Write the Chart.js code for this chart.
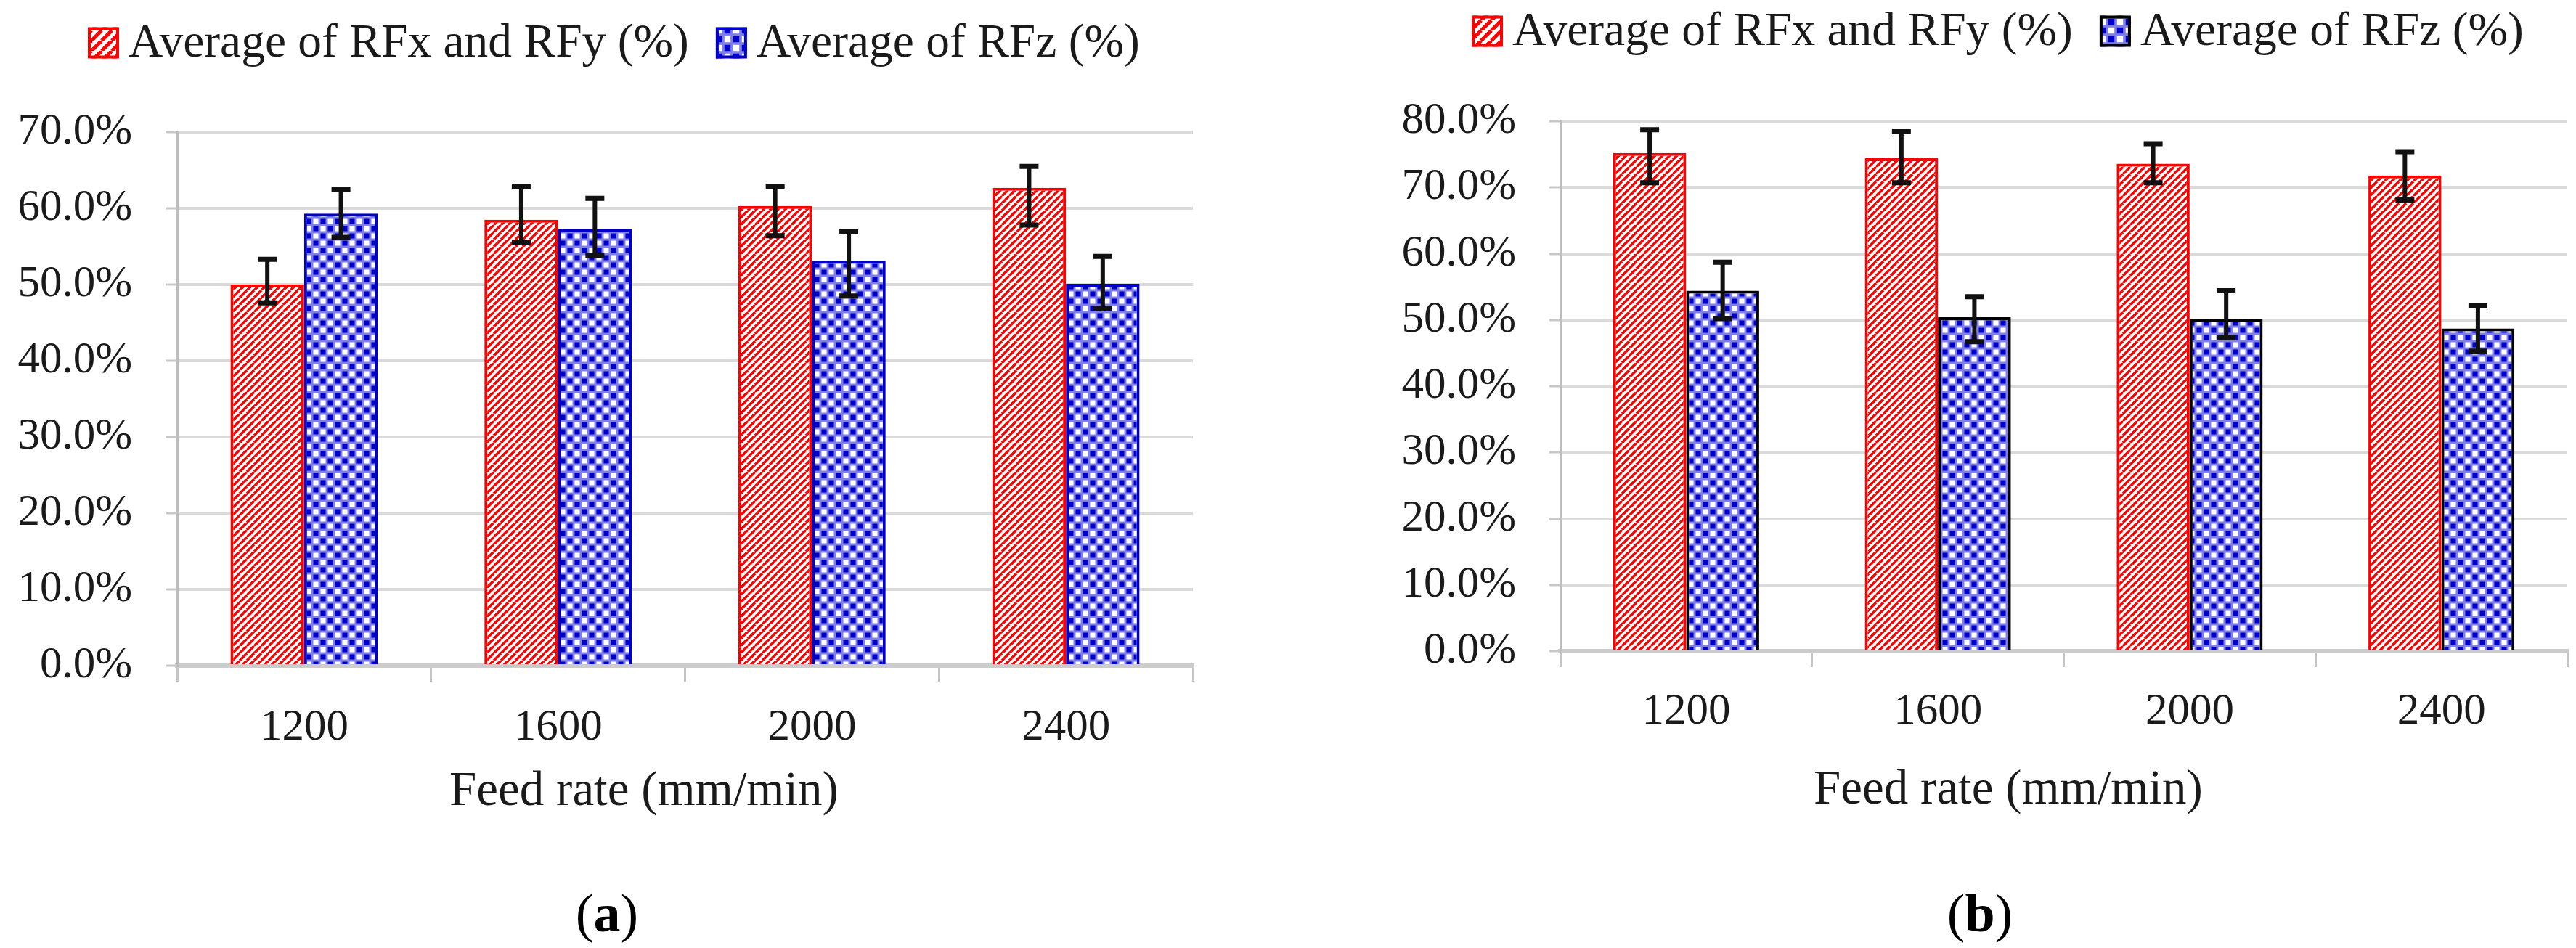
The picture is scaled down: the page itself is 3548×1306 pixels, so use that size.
<!DOCTYPE html>
<html><head><meta charset="utf-8">
<script src="https://cdn.jsdelivr.net/npm/chart.js@4.4.1/dist/chart.umd.min.js"></script>
<style>
html,body{margin:0;padding:0;background:#fff;width:3548px;height:1306px;overflow:hidden}
.panel{position:absolute;top:0;width:1774px;height:1306px}
#pa{left:0}#pb{left:1774px}
canvas{display:block}
.txt{position:absolute;font-family:"Liberation Serif",serif;color:#1a1a1a;transform:translate(-50%,-50%);white-space:nowrap;line-height:1}
.atitle{font-size:67px}
.cap{font-size:74px;color:#000}
</style></head><body>
<div class="panel" id="pa"><canvas id="ca" width="1774" height="1306"></canvas></div>
<div class="panel" id="pb"><canvas id="cb" width="1774" height="1306"></canvas></div>
<div class="txt atitle" style="left:887px;top:1086px">Feed rate (mm/min)</div>
<div class="txt atitle" style="left:2766px;top:1084px">Feed rate (mm/min)</div>
<div class="txt cap" style="left:836px;top:1258px">(<b>a</b>)</div>
<div class="txt cap" style="left:2727px;top:1258px">(<b>b</b>)</div>
<script>
// ---------- data ----------
const categories = ['1200', '1600', '2000', '2400'];
const seriesNames = ['Average of RFx and RFy (%)', 'Average of RFz (%)'];
const yTicksA = [0, 10, 20, 30, 40, 50, 60, 70];
const yTicksB = [0, 10, 20, 30, 40, 50, 60, 70, 80];

// panel (a)
const rfxyA    = [50.0, 58.5, 60.3, 62.7];
const rfxyAHi  = [53.3, 62.8, 62.8, 65.5];
const rfxyALo  = [47.6, 55.5, 56.4, 57.8];
const rfzA     = [59.3, 57.3, 53.1, 50.1];
const rfzAHi   = [62.5, 61.3, 56.9, 53.7];
const rfzALo   = [56.2, 53.8, 48.5, 46.9];

// panel (b)
const rfxyB    = [75.2, 74.4, 73.6, 71.8];
const rfxyBHi  = [78.7, 78.4, 76.6, 75.4];
const rfxyBLo  = [70.7, 70.7, 70.7, 68.1];
const rfzB     = [54.4, 50.4, 50.1, 48.7];
const rfzBHi   = [58.7, 53.5, 54.4, 52.1];
const rfzBLo   = [50.2, 46.7, 47.3, 45.3];

// ---------- patterns ----------
function stripePattern(period, lw){
  const c = document.createElement('canvas'); c.width = period; c.height = period;
  const g = c.getContext('2d');
  g.fillStyle = '#fff'; g.fillRect(0,0,period,period);
  g.strokeStyle = '#ff0000'; g.lineWidth = lw;
  g.beginPath();
  for (let k = -1; k <= 1; k++) { g.moveTo(k*period, period); g.lineTo(k*period + period, 0); }
  g.stroke();
  return g.createPattern(c, 'repeat');
}
function checkPattern(cell){
  const s = cell*2;
  const c = document.createElement('canvas'); c.width = s; c.height = s;
  const g = c.getContext('2d');
  g.fillStyle = '#7f7fe6'; g.fillRect(0,0,s,s);
  const m = cell*0.15, w = cell*0.7;
  g.fillStyle = '#0000cc';
  g.fillRect(m, m, w, w); g.fillRect(cell+m, cell+m, w, w);
  g.fillStyle = '#ffffff';
  g.fillRect(cell+m, m, w, w); g.fillRect(m, cell+m, w, w);
  return g.createPattern(c, 'repeat');
}
const redPat = stripePattern(10, 3.6);
const bluePat = checkPattern(10);
const redPatL = stripePattern(14, 5);
const bluePatL = checkPattern(12);

// ---------- plugins ----------
const errorBars = {
  id: 'errorBars',
  afterDatasetsDraw(chart) {
    const ctx = chart.ctx, ys = chart.scales.y;
    chart.data.datasets.forEach((ds, i) => {
      const meta = chart.getDatasetMeta(i);
      meta.data.forEach((bar, j) => {
        const x = bar.x;
        const yh = ys.getPixelForValue(ds.errHigh[j]);
        const yl = ys.getPixelForValue(ds.errLow[j]);
        ctx.save();
        ctx.strokeStyle = '#111';
        ctx.lineWidth = 6;
        ctx.beginPath(); ctx.moveTo(x, yh); ctx.lineTo(x, yl); ctx.stroke();
        ctx.lineWidth = 7;
        ctx.beginPath();
        ctx.moveTo(x-13, yh); ctx.lineTo(x+13, yh);
        ctx.moveTo(x-13, yl); ctx.lineTo(x+13, yl);
        ctx.stroke();
        ctx.restore();
      });
    });
  }
};
const patternLegend = {
  id: 'patternLegend',
  afterDraw(chart, args, o) {
    const ctx = chart.ctx;
    ctx.save();
    ctx.font = '65.5px "Liberation Serif"';
    ctx.textBaseline = 'middle';
    let x = o.x;
    chart.data.datasets.forEach((ds, i) => {
      const sw = 43;
      ctx.fillStyle = ds.legendFill;
      ctx.fillRect(x, o.y - sw/2, sw, sw);
      ctx.strokeStyle = ds.borderColor; ctx.lineWidth = 4;
      ctx.strokeRect(x+2, o.y - sw/2 + 2, sw-4, sw-4);
      ctx.fillStyle = '#1a1a1a';
      ctx.fillText(ds.label, x + sw + 13, o.y + 2);
      x += sw + 13 + ctx.measureText(ds.label).width + 37;
    });
    ctx.restore();
  }
};

function makeChart(id, cfg) {
  const W = 1774, H = 1306;
  return new Chart(document.getElementById(id), {
    type: 'bar',
    data: {
      labels: categories,
      datasets: [
        { label: seriesNames[0], data: cfg.s1, errHigh: cfg.s1Hi, errLow: cfg.s1Lo,
          backgroundColor: redPat, legendFill: redPatL, borderColor: '#ff0000', borderWidth: 4,
          categoryPercentage: 0.58, barPercentage: 1.0 },
        { label: seriesNames[1], data: cfg.s2, errHigh: cfg.s2Hi, errLow: cfg.s2Lo,
          backgroundColor: bluePat, legendFill: bluePatL, borderColor: cfg.blueBorder, borderWidth: 4,
          categoryPercentage: 0.58, barPercentage: 1.0 }
      ]
    },
    options: {
      responsive: false, animation: false, devicePixelRatio: 1,
      layout: { padding: { left: 0, top: cfg.T, right: W - cfg.R, bottom: 0 } },
      plugins: {
        legend: { display: false }, tooltip: { enabled: false },
        patternLegend: { x: cfg.legX, y: cfg.legY }
      },
      scales: {
        x: {
          afterFit: s => { s.height = H - cfg.B; },
          grid: { drawOnChartArea: false, drawTicks: true, tickLength: 22, color: '#c4c4c4', lineWidth: 3, offset: true },
          border: { display: true, color: '#cccccc', width: 6 },
          ticks: { font: { family: 'Liberation Serif', size: 61 }, color: '#1a1a1a', padding: cfg.xPad, maxRotation: 0 }
        },
        y: {
          min: 0, max: cfg.ticks[cfg.ticks.length-1],
          afterFit: s => { s.width = cfg.L; },
          afterBuildTicks: s => { s.ticks = cfg.ticks.map(v => ({ value: v })); },
          grid: { color: c => (c.tick && c.tick.value === 0) ? 'rgba(0,0,0,0)' : '#dadada', lineWidth: 4,
                  tickColor: '#c8c8c8', tickLength: 16, tickWidth: 3 },
          border: { display: true, color: '#bdbdbd', width: 3 },
          ticks: { font: { family: 'Liberation Serif', size: 61 }, color: '#1a1a1a', padding: cfg.yPad,
                   callback: v => Number(v).toFixed(1) + '%' }
        }
      }
    },
    plugins: [errorBars, patternLegend]
  });
}

makeChart('ca', { L: 244, R: 1643, T: 182, B: 917, ticks: yTicksA, yPad: 46, xPad: 27,
  s1: rfxyA, s1Hi: rfxyAHi, s1Lo: rfxyALo, s2: rfzA, s2Hi: rfzAHi, s2Lo: rfzALo,
  blueBorder: '#0000cc', legX: 121, legY: 59 });
makeChart('cb', { L: 375, R: 1762, T: 167, B: 897, ticks: yTicksB, yPad: 45, xPad: 25,
  s1: rfxyB, s1Hi: rfxyBHi, s1Lo: rfxyBLo, s2: rfzB, s2Hi: rfzBHi, s2Lo: rfzBLo,
  blueBorder: '#000000', legX: 253, legY: 43 });
</script>
</body></html>
